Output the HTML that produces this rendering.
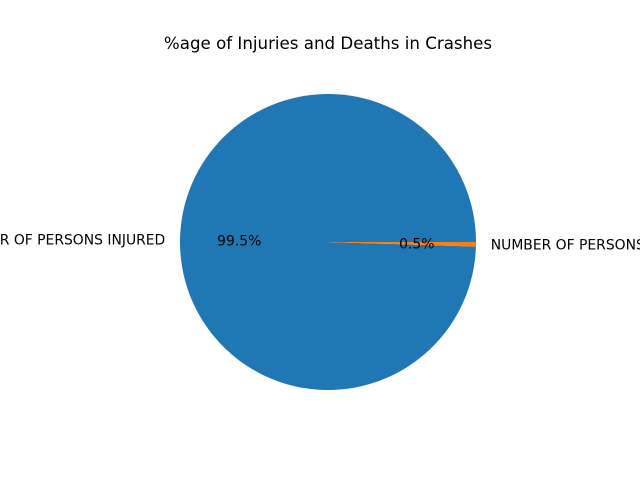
<!DOCTYPE html>
<html><head><meta charset="utf-8"><style>body{margin:0;background:#fff}svg{display:block}</style></head>
<body>
<svg id="chart" width="640" height="480" viewBox="0 0 640 480" font-family="'DejaVu Sans', 'Liberation Sans', sans-serif">
<rect width="640" height="480" fill="#fff"/>
<text x="328" y="49" font-size="16.67" text-anchor="middle" fill="#000">%age of Injuries and Deaths in Crashes</text>
<g id="slices"></g>
</svg>
<script>
const categories = ["NUMBER OF PERSONS INJURED", "NUMBER OF PERSONS KILLED"];
const values = [99.5, 0.5];
const colors = ["#1f77b4", "#ff7f0e"];
const cx = 328, cy = 242, r = 148;
const svg = document.getElementById('slices');
const ns = 'http://www.w3.org/2000/svg';
const total = values.reduce((a, b) => a + b, 0);
let start = 0;
values.forEach((v, i) => {
  const frac = v / total;
  const a0 = start * 2 * Math.PI, a1 = (start + frac) * 2 * Math.PI;
  const x0 = cx + r * Math.cos(a0), y0 = cy - r * Math.sin(a0);
  const x1 = cx + r * Math.cos(a1), y1 = cy - r * Math.sin(a1);
  const large = frac > 0.5 ? 1 : 0;
  const p = document.createElementNS(ns, 'path');
  p.setAttribute('d', `M${cx},${cy} L${x0},${y0} A${r},${r} 0 ${large} 0 ${x1},${y1} Z`);
  p.setAttribute('fill', colors[i]);
  
  
  svg.appendChild(p);
  const mid = (a0 + a1) / 2;
  const lx = cx + 1.1 * r * Math.cos(mid), ly = cy - 1.1 * r * Math.sin(mid);
  const t = document.createElementNS(ns, 'text');
  t.setAttribute('x', lx); t.setAttribute('y', ly + 5);
  t.setAttribute('font-size', '13.9');
  t.setAttribute('text-anchor', Math.cos(mid) < 0 ? 'end' : 'start');
  t.textContent = categories[i];
  
  
  svg.appendChild(t);
  const px = cx + 0.6 * r * Math.cos(mid), py = cy - 0.6 * r * Math.sin(mid);
  const pt = document.createElementNS(ns, 'text');
  pt.setAttribute('x', px); pt.setAttribute('y', py + 5);
  pt.setAttribute('font-size', '13.9');
  pt.setAttribute('text-anchor', 'middle');
  pt.textContent = (frac * 100).toFixed(1) + '%';
  
  
  svg.appendChild(pt);
  start += frac;
});
</script>
</body></html>
